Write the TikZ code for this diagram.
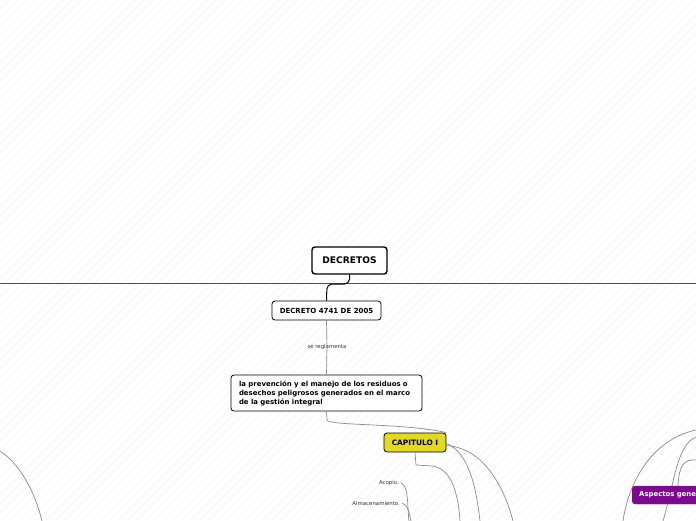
\documentclass[tikz,border=0pt]{standalone}
\usepackage{fontspec}
\setmainfont{DejaVu Sans}
\definecolor{capyellow}{HTML}{E2D924}
\definecolor{aspurple}{HTML}{7B0A8E}
\definecolor{linegray}{HTML}{8A8A8A}
\definecolor{hatch}{HTML}{F1F1F1}
\begin{document}
\begin{tikzpicture}[x=1pt,y=-1pt,
  box/.style={draw=black,fill=white,rounded corners=3pt,inner sep=0pt,font=\bfseries},
  conn/.style={draw=linegray,line width=0.7pt},
  lbl/.style={inner sep=0pt,font=\fontsize{5.4}{6}\selectfont,text=black!80}]
\useasboundingbox (0,0) rectangle (696,520);
\clip (0,0) rectangle (696,520);
% background hatching
\foreach \i in {-520,-511,...,700} {
  \draw[hatch,line width=0.5pt] (\i,520) -- ({\i+520},0);
}
% connectors under nodes
\coordinate (Lend) at (0,283.5);
\coordinate (Rend) at (696,283.5);
\draw[black!70,line width=1.1pt] (Lend) -- (Rend);

\node[box,line width=1.4pt,minimum width=75pt,minimum height=27pt,font=\fontsize{9.1}{10}\bfseries\selectfont] (dec) at (349.5,260.5) {DECRETOS};
\node[box,line width=0.8pt,minimum width=109pt,minimum height=19pt,font=\fontsize{7.0}{8}\bfseries\selectfont] (d4741) at (326.5,310.5) {DECRETO 4741 DE 2005};
\node[lbl] (reg) at (327,347.5) {se reglamenta};
\node[box,line width=0.8pt,minimum width=191pt,minimum height=36pt,align=left,text width=175pt,font=\fontsize{6.95}{9}\bfseries\selectfont] (tb) at (326.5,393) {la prevención y el manejo de los residuos o\\desechos peligrosos generados en el marco\\de la gestión integral};
\node[lbl,anchor=east] (aco) at (399,483) {Acopio.};
\node[lbl,anchor=east] (alm) at (400,503) {Almacenamiento.};

\draw[black,line width=1pt,rounded corners=5pt] (dec.south) -- (349.5,284) -- (327,284) -- (d4741.north);
\draw[conn] (d4741.south) -- ([yshift=-3pt]reg.north);
\draw[conn] ([yshift=3pt]reg.south) -- (tb.north);

% right side coordinates
\coordinate (rA) at (696,430);
\coordinate (rB) at (696,437);
\coordinate (rC) at (696,460);
\coordinate (eA) at (623,521);
\coordinate (eB) at (663,521);
\coordinate (eL0) at (0,451);
\coordinate (eL1) at (42,521);
\coordinate (e1) at (460,521);
\coordinate (e2) at (480,521);
\coordinate (e3) at (513,521);
\coordinate (eAco) at (409,521);
\coordinate (eAlm) at (411,521);

\node[box,line width=0.8pt,fill=capyellow,minimum width=62pt,minimum height=19pt,font=\fontsize{7.4}{8}\bfseries\selectfont] (cap) at (415,442.5) {CAPITULO I};

\draw[conn] (tb.south) -- (327,420) .. controls (329,426) and (405,423) .. (cap.north east);
\draw[conn] ([yshift=-1pt]cap.east) .. controls (468,452) and (476,485) .. (e2);
\draw[conn] ([yshift=-3pt]cap.east) .. controls (485,448) and (505,490) .. (e3);
\draw[conn] (cap.south) -- (416,465) -- (432,466) .. controls (450,468) and (458,490) .. (e1);
\draw[conn] ([xshift=2pt]aco.east) .. controls (409,486) and (407,505) .. (eAco);
\draw[conn] ([xshift=2pt]alm.east) .. controls (408,505) and (409,512) .. (eAlm);
\draw[conn] (eL0) .. controls (20,464) and (35,492) .. (eL1);
\draw[conn] (rA) .. controls (650,440) and (628,485) .. (eA);
\draw[conn] (rB) .. controls (677,445) and (675,480) .. (eB);
\draw[conn] (rC) .. controls (684,459) and (679,465) .. (678,486);

\node[draw=aspurple,fill=aspurple,rounded corners=3pt,anchor=west,minimum height=18pt,inner xsep=7pt,inner ysep=0pt,text=white,font=\fontsize{6.9}{8}\bfseries\selectfont,text width=70pt,align=left] (asp) at (632,495) {Aspectos gene};
\end{tikzpicture}
\end{document}
